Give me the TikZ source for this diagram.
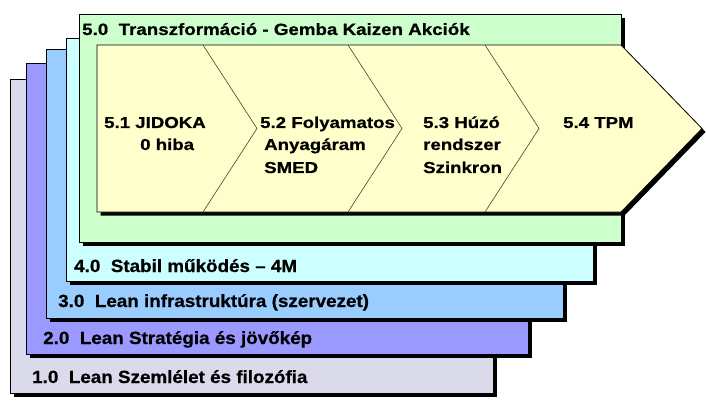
\documentclass[tikz,border=0pt]{standalone}
\usepackage{fontspec}
\setmainfont{Liberation Sans}
\newfontfamily\lblfont{Liberation Sans}[FakeStretch=1.07,FakeBold=0.7]
\newfontfamily\ttlfont{Liberation Sans}[FakeStretch=1.15,FakeBold=0.7]
\newfontfamily\chvfont{Liberation Sans}[FakeStretch=1.18,FakeBold=0.7]
\definecolor{layA}{RGB}{218,218,235}
\definecolor{layB}{RGB}{153,153,255}
\definecolor{layC}{RGB}{153,204,255}
\definecolor{layD}{RGB}{204,255,255}
\definecolor{layE}{RGB}{204,255,204}
\definecolor{chev}{RGB}{255,255,204}
\tikzset{
  layer/.style={draw=black, line width=0.8pt},
  shade box/.style={fill=black},
  lbl/.style={anchor=base west, inner sep=0pt, font=\lblfont\bfseries\fontsize{17.6}{21}\selectfont},
  ttl/.style={anchor=base west, inner sep=0pt, font=\ttlfont\bfseries\fontsize{16.3}{21}\selectfont},
  chv/.style={anchor=base west, inner sep=0pt, font=\chvfont\bfseries\fontsize{15.8}{21}\selectfont},
  divider/.style={draw=black!75, line width=0.6pt}
}
\begin{document}
\begin{tikzpicture}[x=1pt,y=-1pt]
\useasboundingbox (0,0) rectangle (706,406);
% layer 1
\fill[shade box] (14,83) rectangle (497,397);
\filldraw[layer, fill=layA] (10,79) rectangle (493,393);
% layer 2
\fill[shade box] (30,67) rectangle (532,358);
\filldraw[layer, fill=layB] (26,63) rectangle (528,354);
% layer 3
\fill[shade box] (50,53) rectangle (567,322);
\filldraw[layer, fill=layC] (46,49) rectangle (563,318);
% layer 4
\fill[shade box] (70,42) rectangle (597,285);
\filldraw[layer, fill=layD] (66,38) rectangle (593,281);
% layer 5
\fill[shade box] (83,18) rectangle (625,246);
\filldraw[layer, fill=layE] (79,14) rectangle (621,242);
% chevron
\fill[shade box] (100.5,48.5) -- (624.5,48.5) -- (705.5,132) -- (624.5,215.5) -- (100.5,215.5) -- cycle;
\filldraw[layer, fill=chev] (97,45) -- (621,45) -- (702,128.5) -- (621,212) -- (97,212) -- cycle;
% dividers
\draw[divider] (203,45) -- (257,128.5) -- (203,212);
\draw[divider] (348,45) -- (402,128.5) -- (348,212);
\draw[divider] (485,45) -- (539,128.5) -- (485,212);
% texts
\node[ttl] (t50) at (82,35) {5.0\ \ Transzformáció - Gemba Kaizen Akciók};
\node[chv] (t51a) at (104,128) {5.1 JIDOKA};
\node[chv] (t51b) at (140,150) {0 hiba};
\node[chv] (t52a) at (260,128) {5.2 Folyamatos};
\node[chv] (t52b) at (264,150) {Anyagáram};
\node[chv] (t52c) at (264,173) {SMED};
\node[chv] (t53a) at (423,128) {5.3 Húzó};
\node[chv] (t53b) at (423,150) {rendszer};
\node[chv] (t53c) at (423,173) {Szinkron};
\node[chv] (t54) at (563,128) {5.4 TPM};
\node[lbl] (t40) at (74,272) {4.0\ \ Stabil működés – 4M};
\node[lbl] (t30) at (58,307) {3.0\ \ Lean infrastruktúra (szervezet)};
\node[lbl] (t20) at (43,344) {2.0\ \ Lean Stratégia és jövőkép};
\node[lbl] (t10) at (32,383) {1.0\ \ Lean Szemlélet és filozófia};
\end{tikzpicture}
\end{document}
